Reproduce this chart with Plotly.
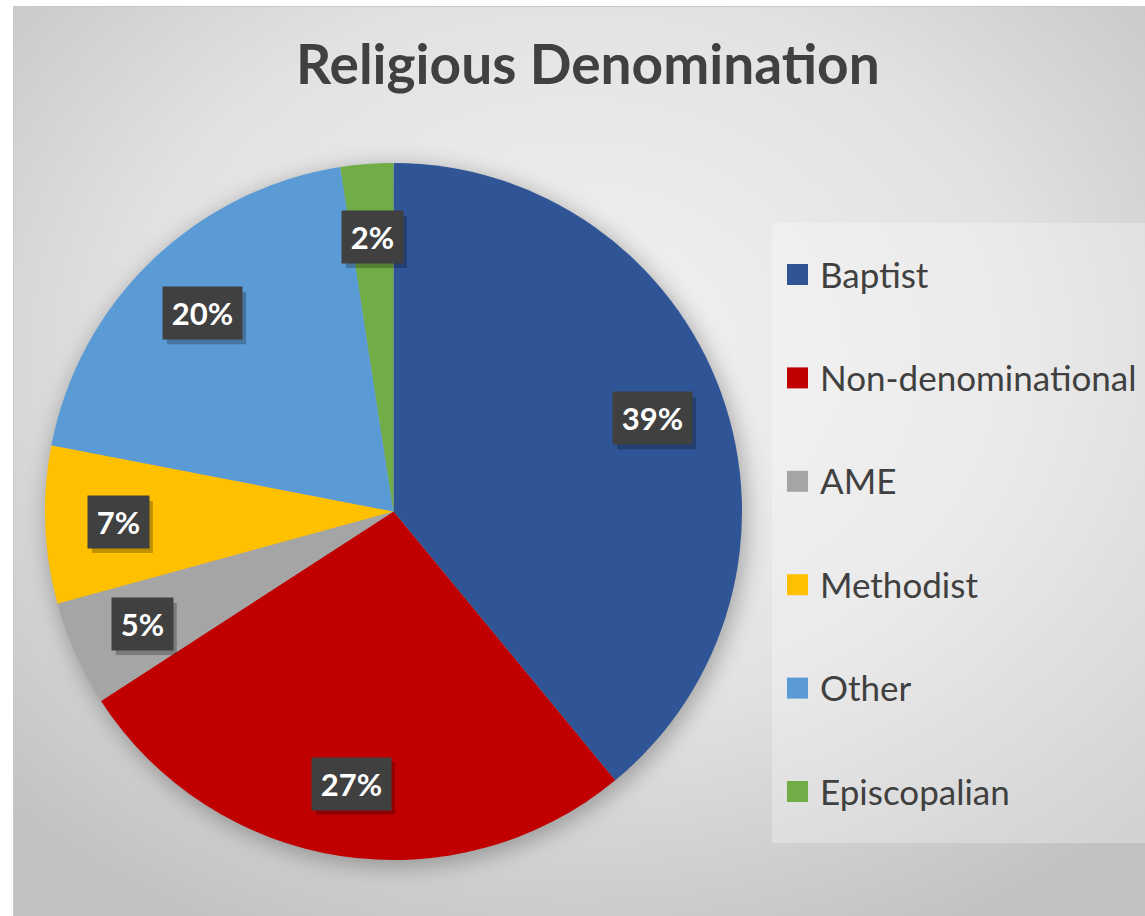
import math
import base64
import plotly.graph_objects as go

# ---------------- data ----------------
categories = ["Baptist", "Non-denominational", "AME", "Methodist", "Other", "Episcopalian"]
counts = [16, 11, 2, 3, 8, 1]
colors = ["#2F5597", "#C00000", "#A5A5A5", "#FFC000", "#5B9BD5", "#70AD47"]
title_text = "Religious Denomination"

# ---------------- layout geometry (pixels) ----------------
W, H = 1145, 916
CX, CY, R = 393.5, 511.5, 348.5          # pie centre / radius in px (from top-left)
FONT = "Lato"
TEXT_GRAY = "#404040"

dom_x = [(CX - R) / W, (CX + R) / W]
dom_y = [(H - CY - R) / H, (H - CY + R) / H]


def px_to_paper(x, y):
    return x / W, 1 - y / H


# ---------------- background (gradient + pie shadow) ----------------
svg = f'''<svg xmlns="http://www.w3.org/2000/svg" width="{W}" height="{H}" viewBox="0 0 {W} {H}">
<defs>
<radialGradient id="g" cx="0.5" cy="0.38" r="0.72">
<stop offset="0" stop-color="#f3f3f3"/>
<stop offset="0.55" stop-color="#e2e2e2"/>
<stop offset="1" stop-color="#c1c1c1"/>
</radialGradient>
<filter id="b" x="-30%" y="-30%" width="160%" height="160%"><feGaussianBlur stdDeviation="11"/></filter>
</defs>
<rect x="0" y="0" width="{W}" height="{H}" fill="#ffffff"/>
<rect x="13.5" y="6.5" width="{W - 13}" height="{H - 6}" fill="url(#g)" stroke="#c8c8c8" stroke-width="1"/>
<circle cx="{CX + 3}" cy="{CY + 5}" r="{R + 2}" fill="rgba(0,0,0,0.28)" filter="url(#b)"/>
</svg>'''
bg_uri = "data:image/svg+xml;base64," + base64.b64encode(svg.encode()).decode()

fig = go.Figure()
fig.add_trace(go.Pie(
    labels=categories,
    values=counts,
    sort=False,
    direction="clockwise",
    rotation=0,
    marker=dict(colors=colors, line=dict(width=0)),
    textinfo="none",
    hoverinfo="label+value+percent",
    domain=dict(x=dom_x, y=dom_y),
    showlegend=False,
))

annotations = []
shapes = []

# ---------------- data labels (computed from the values) ----------------
total = sum(counts)
cum = 0
BOX_H = 52
for c in counts:
    mid = (cum + c / 2) / total * 2 * math.pi
    cum += c
    f = 0.79
    lx = CX + f * R * math.sin(mid)
    ly = CY - f * R * math.cos(mid)
    ax, ay = px_to_paper(lx, ly)
    txt = f"{round(100 * c / total)}%"
    box_w = 25 + 18 * len(txt)
    # drop shadow behind the label box
    sx0, sy0 = px_to_paper(lx - box_w / 2 + 4, ly - BOX_H / 2 + 5)
    sx1, sy1 = px_to_paper(lx + box_w / 2 + 4, ly + BOX_H / 2 + 5)
    shapes.append(dict(type="rect", xref="paper", yref="paper", x0=sx0, y0=sy1, x1=sx1, y1=sy0,
                       fillcolor="rgba(0,0,0,0.25)", line=dict(width=0), layer="above"))
    annotations.append(dict(
        x=ax, y=ay, xref="paper", yref="paper", showarrow=False,
        text=f"<b>{txt}</b>", font=dict(family=FONT, size=31, color="#ffffff"),
        bgcolor="#404040", borderpad=0, width=box_w, height=BOX_H,
        xanchor="center", yanchor="middle", valign="middle", align="center",
    ))

# ---------------- title ----------------
tx, ty = px_to_paper(588, 63)
annotations.append(dict(
    x=tx, y=ty, xref="paper", yref="paper", showarrow=False,
    text=f"<b>{title_text}</b>", font=dict(family=FONT, size=55, color=TEXT_GRAY),
    xanchor="center", yanchor="middle",
))

# ---------------- legend (manual) ----------------
lx0, ly0 = px_to_paper(772, 223)
lx1, ly1 = px_to_paper(1145, 843)
shapes.append(dict(type="rect", xref="paper", yref="paper", x0=lx0, y0=ly1, x1=lx1, y1=ly0,
                   fillcolor="rgba(255,255,255,0.28)", line=dict(width=0), layer="below"))
first_y, step = 274.5, 103.4
sq = 21
for i, (name, col) in enumerate(zip(categories, colors)):
    yc = first_y + i * step
    x0, y0 = px_to_paper(787, yc - sq / 2)
    x1, y1 = px_to_paper(787 + sq, yc + sq / 2)
    shapes.append(dict(type="rect", xref="paper", yref="paper", x0=x0, y0=y1, x1=x1, y1=y0,
                       fillcolor=col, line=dict(width=0)))
    tx, ty = px_to_paper(818, yc - 1)
    annotations.append(dict(
        x=tx, y=ty, xref="paper", yref="paper", showarrow=False,
        text=name, font=dict(family=FONT, size=35, color=TEXT_GRAY),
        xanchor="left", yanchor="middle",
    ))

fig.update_layout(
    width=W, height=H,
    margin=dict(l=0, r=0, t=0, b=0),
    paper_bgcolor="#ffffff",
    plot_bgcolor="rgba(0,0,0,0)",
    images=[dict(source=bg_uri, xref="paper", yref="paper", x=0, y=1, sizex=1, sizey=1,
                 xanchor="left", yanchor="top", sizing="stretch", layer="below")],
    annotations=annotations,
    shapes=shapes,
)

fig.write_html("out.html", config={"displayModeBar": False},
               post_script="document.body.style.margin='0';document.body.style.overflow='hidden';")
